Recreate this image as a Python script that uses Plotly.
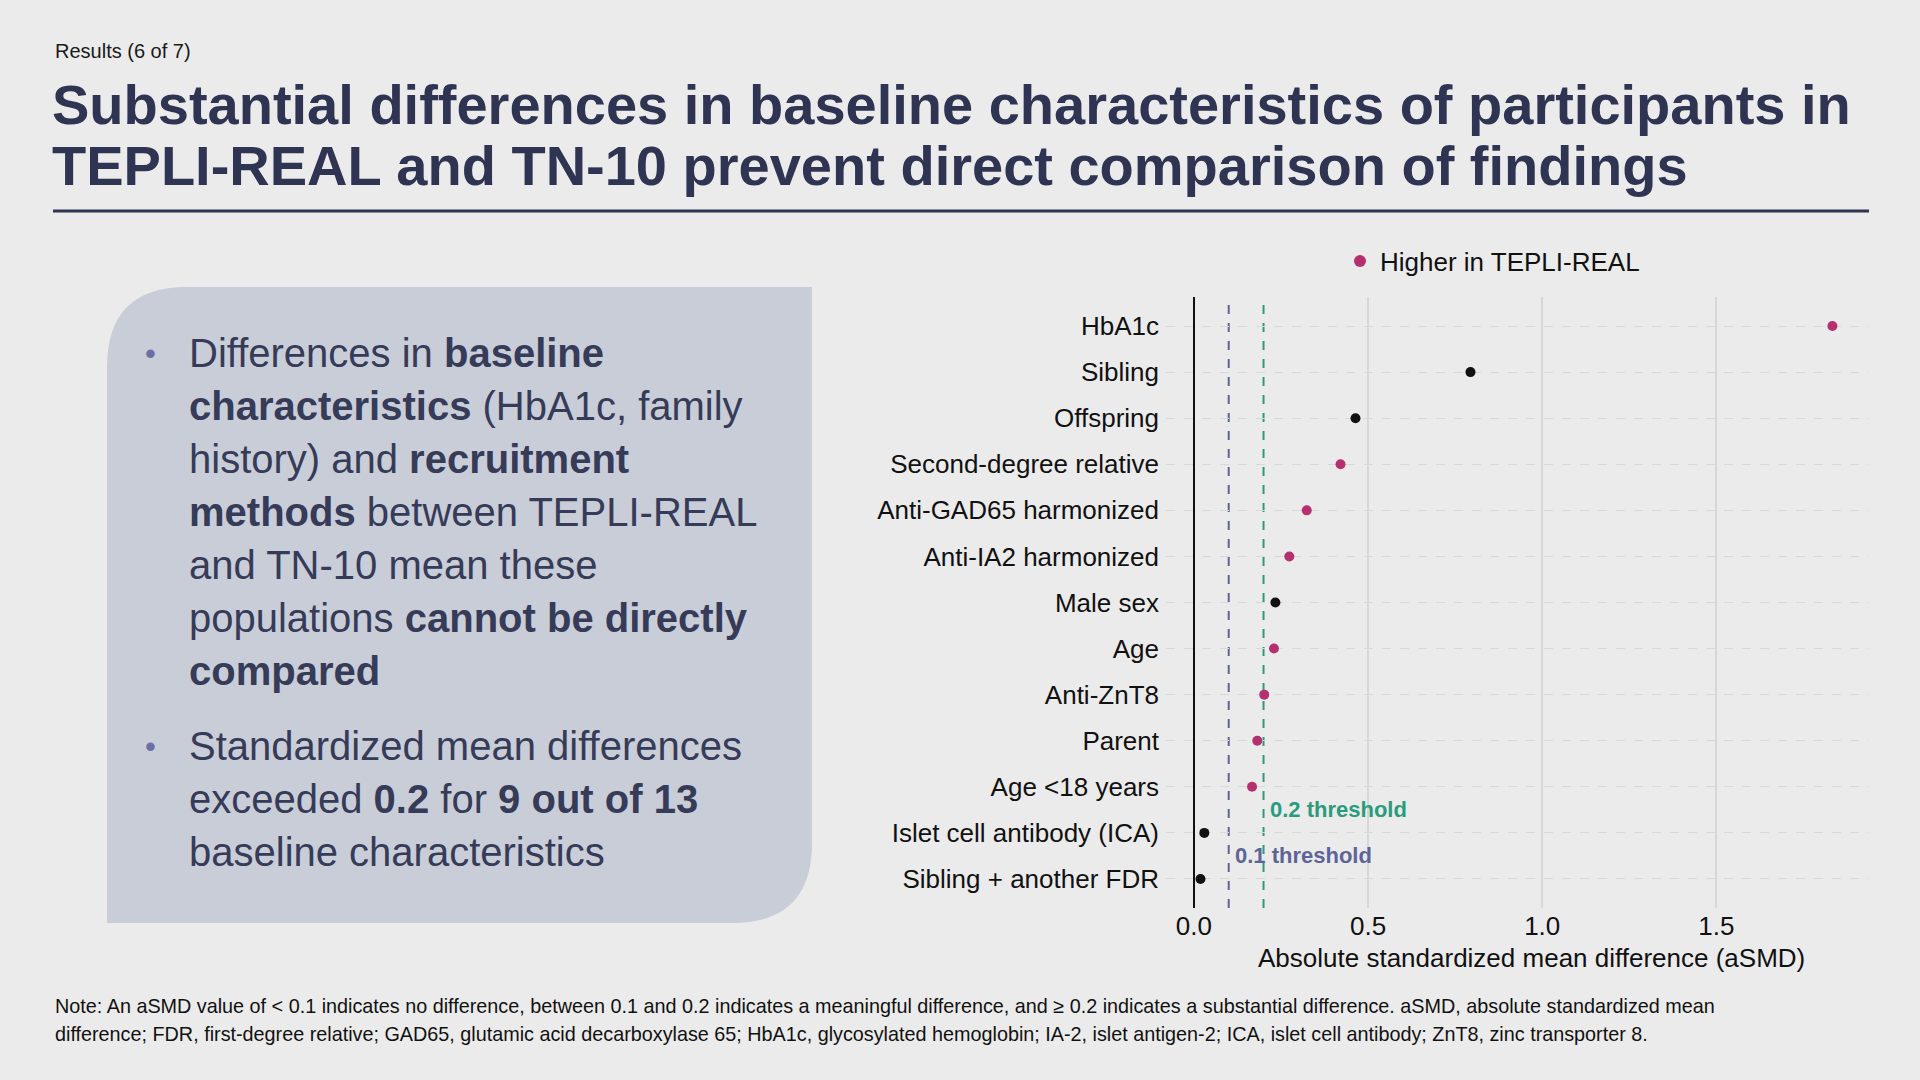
import plotly.graph_objects as go

# ── Data ───────────────────────────────────────────────────────────────────────

CHARACTERISTICS = [
    "HbA1c", "Sibling", "Offspring", "Second-degree relative",
    "Anti-GAD65 harmonized", "Anti-IA2 harmonized", "Male sex", "Age",
    "Anti-ZnT8", "Parent", "Age <18 years", "Islet cell antibody (ICA)",
    "Sibling + another FDR",
]
ASMD = [1.833, 0.794, 0.464, 0.421, 0.324, 0.274, 0.234, 0.230,
        0.202, 0.182, 0.167, 0.030, 0.019]
HIGHER_IN_TEPLI = [True, False, False, True, True, True, False, True,
                   True, True, True, False, False]

X_TICKS = [0.0, 0.5, 1.0, 1.5]
X_TICK_LABELS = ["0.0", "0.5", "1.0", "1.5"]
THRESHOLDS = [0.1, 0.2]
THRESHOLD_LABELS = ["0.1 threshold", "0.2 threshold"]

BULLET_1 = [
    "Differences in <b>baseline</b>",
    "<b>characteristics</b> (HbA1c, family",
    "history) and <b>recruitment</b>",
    "<b>methods</b> between TEPLI-REAL",
    "and TN-10 mean these",
    "populations <b>cannot be directly</b>",
    "<b>compared</b>",
]
BULLET_2 = [
    "Standardized mean differences",
    "exceeded <b>0.2</b> for <b>9 out of 13</b>",
    "baseline characteristics",
]

NOTE_LINES = [
    "Note: An aSMD value of &lt; 0.1 indicates no difference, between 0.1 and 0.2 indicates a meaningful "
    "difference, and ≥ 0.2 indicates a substantial difference. aSMD, absolute standardized mean",
    "difference; FDR, first-degree relative; GAD65, glutamic acid decarboxylase 65; HbA1c, glycosylated "
    "hemoglobin; IA-2, islet antigen-2; ICA, islet cell antibody; ZnT8, zinc transporter 8.",
]

# ── Style ──────────────────────────────────────────────────────────────────────

W, H = 1920, 1080
FONT = "Liberation Sans, Arial, sans-serif"
BG = "#ebebeb"
NAVY = "#2e3452"
TEXT_NAVY = "#363b58"
BOX = "#c9cdd8"
PINK = "#b5306e"
BLACK = "#111111"
THRESH_COLORS = ["#5d6598", "#2a9b7c"]


def px_x(v):
    return v / W


def px_y(v):
    return 1 - v / H


def rounded_box(x0, y0, x1, y1, r):
    # top-left and bottom-right corners rounded, pixel coords -> paper
    pts = [
        f"M {px_x(x0)},{px_y(y0 + r)}",
        f"Q {px_x(x0)},{px_y(y0)} {px_x(x0 + r)},{px_y(y0)}",
        f"L {px_x(x1)},{px_y(y0)}",
        f"L {px_x(x1)},{px_y(y1 - r)}",
        f"Q {px_x(x1)},{px_y(y1)} {px_x(x1 - r)},{px_y(y1)}",
        f"L {px_x(x0)},{px_y(y1)}",
        "Z",
    ]
    return " ".join(pts)


# ── Figure ─────────────────────────────────────────────────────────────────────

pink_idx = [i for i, h in enumerate(HIGHER_IN_TEPLI) if h]
black_idx = [i for i, h in enumerate(HIGHER_IN_TEPLI) if not h]

fig = go.Figure()
fig.add_trace(go.Scatter(
    x=[ASMD[i] for i in black_idx], y=[CHARACTERISTICS[i] for i in black_idx],
    mode="markers", marker=dict(size=10, color=BLACK),
    showlegend=False, hovertemplate="%{y}: %{x:.3f}<extra></extra>",
))
fig.add_trace(go.Scatter(
    x=[ASMD[i] for i in pink_idx], y=[CHARACTERISTICS[i] for i in pink_idx],
    mode="markers", marker=dict(size=10, color=PINK),
    name="Higher in TEPLI-REAL", hovertemplate="%{y}: %{x:.3f}<extra></extra>",
))

for t, c, lbl, ypos in zip(THRESHOLDS, THRESH_COLORS, THRESHOLD_LABELS, [11.5, 10.5]):
    fig.add_shape(type="line", xref="x", yref="paper", x0=t, x1=t,
                  y0=px_y(908), y1=px_y(297),
                  line=dict(color=c, width=2, dash="dash"), layer="below")
    fig.add_annotation(x=t, y=ypos, xref="x", yref="y", text=f"<b>{lbl}</b>",
                       showarrow=False, xanchor="left", yanchor="middle", xshift=4,
                       font=dict(family=FONT, size=22, color=c))

# left text box
fig.add_shape(type="path", xref="paper", yref="paper",
              path=rounded_box(107, 287, 812, 923, 80),
              fillcolor=BOX, line=dict(width=0), layer="below")

annotations = []

def text(x, y, s, size, color, anchor="left"):
    annotations.append(dict(x=px_x(x), y=px_y(y), xref="paper", yref="paper",
                            text=s, showarrow=False, xanchor=anchor, yanchor="middle",
                            font=dict(family=FONT, size=size, color=color)))

text(53, 51, "Results (6 of 7)", 20, "#1a1a1a")
text(50, 105, "<b>Substantial differences in baseline characteristics of participants in</b>", 56, NAVY)
text(50, 165, "<b>TEPLI-REAL and TN-10 prevent direct comparison of findings</b>", 56, NAVY)

for i, line in enumerate(BULLET_1):
    text(187, 353 + i * 53, line, 40, TEXT_NAVY)
for i, line in enumerate(BULLET_2):
    text(187, 746 + i * 53, line, 40, TEXT_NAVY)
text(150, 353, "•", 31, "#6a6fa8", anchor="center")
text(150, 746, "•", 31, "#6a6fa8", anchor="center")

# x-axis title, centred as in the source panel
text(1531, 958, "Absolute standardized mean difference (aSMD)", 26, "#111111", anchor="center")

for i, line in enumerate(NOTE_LINES):
    text(53, 1006 + i * 28, line, 19.8, "#111111")

fig.add_shape(type="line", xref="paper", yref="paper",
              x0=px_x(53), x1=px_x(1869), y0=px_y(211), y1=px_y(211),
              line=dict(color=NAVY, width=3))

fig.update_layout(
    width=W, height=H,
    paper_bgcolor=BG, plot_bgcolor=BG,
    margin=dict(l=0, r=0, t=0, b=0),
    font=dict(family=FONT, color="#111111"),
    annotations=fig.layout.annotations + tuple(annotations),
    showlegend=True,
    legend=dict(x=px_x(1340), y=px_y(261), xanchor="left", yanchor="middle",
                bgcolor="rgba(0,0,0,0)", font=dict(family=FONT, size=26, color="#111111"),
                itemsizing="constant"),
    xaxis=dict(
        domain=[px_x(1166), px_x(1869)], range=[-0.08, 1.938],
        tickvals=X_TICKS, ticktext=X_TICK_LABELS,
        tickfont=dict(size=26, color="#111111"),
        showgrid=True, gridcolor="#d4d8d8", gridwidth=1.5,
        zeroline=True, zerolinecolor="#111111", zerolinewidth=2,
        showline=False, ticks="", fixedrange=True,
    ),
    yaxis=dict(
        domain=[px_y(908), px_y(297)],
        type="category", categoryorder="array", categoryarray=CHARACTERISTICS,
        range=[len(CHARACTERISTICS) - 0.37, -0.63],
        tickfont=dict(size=26, color="#111111"),
        showgrid=True, gridcolor="#d6d9d9", gridwidth=1.2, griddash="dash",
        showline=False, ticks="", ticklabelstandoff=6, fixedrange=True,
    ),
)

fig.write_html("out.html", config={"displayModeBar": False},
               post_script="document.body.style.margin='0';document.body.style.background='#ebebeb';")
